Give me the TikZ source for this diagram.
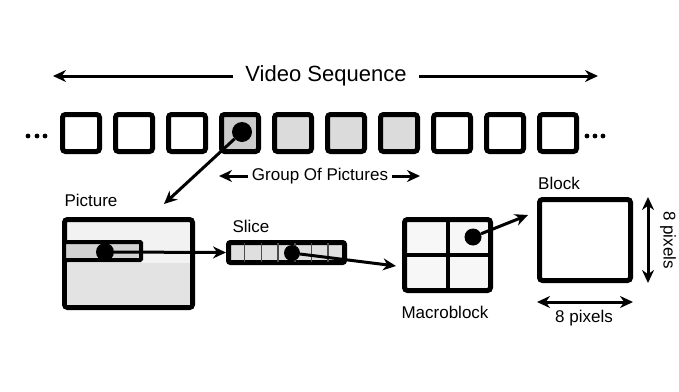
\documentclass[tikz,border=0pt]{standalone}
\usepackage{fontspec}
\setmainfont{Liberation Sans}
\usetikzlibrary{arrows.meta, positioning, calc}

\begin{document}
\begin{tikzpicture}[x=1pt, y=-1pt,
    frame/.style={rectangle, draw, line width=5pt, rounded corners=3pt, inner sep=0pt},
    dotmark/.style={circle, fill=black, inner sep=0pt, minimum size=18pt},
    lbl/.style={font=\fontsize{17}{20}\selectfont, inner sep=0pt},
    arrow/.style={line width=3pt, -{Stealth[length=13pt, width=12pt]}},
    darrow/.style={line width=3pt, {Stealth[length=13pt, width=12pt]}-{Stealth[length=13pt, width=12pt]}}]

\useasboundingbox (0,0) rectangle (679,391);

% Sequence of pictures along the top
\node (vs) [lbl, font=\fontsize{22}{26}\selectfont] at (326,76) {Video Sequence};
\coordinate (vsl) at (53,77);
\coordinate (vsr) at (598,77);
\draw [arrow] ([xshift=-12pt]vs.west) -- (vs.west -| vsl);
\draw [arrow] ([xshift=12pt]vs.east)  -- (vs.east -| vsr);

\foreach \i/\shade in {1/white,2/white,3/white,4/gray!40,5/gray!28,6/gray!28,7/gray!28,8/white,9/white,10/white}
    \node (f\i) [frame, fill=\shade, minimum size=37pt] at ({81+53*(\i-1)}, 133) {};

\foreach \x in {28,37,45}    \fill (\x,136) circle (2.4);
\foreach \x in {587,595,603} \fill (\x,136) circle (2.4);

\node (d4) [dotmark, minimum size=20pt] at ([xshift=2pt,yshift=1pt]f4.center) {};

% Group of pictures
\node (gop) [lbl] at (320,176) {Group Of Pictures};
\draw [arrow] ([xshift=-4pt]gop.west) -- (gop.west -| f4.west);
\draw [arrow] ([xshift=4pt]gop.east)  -- (gop.east -| f7.east);

% Picture
\node (pic) [frame, fill=gray!10, minimum width=128pt, minimum height=88pt] at (128.5,263.5) {};
\fill [gray!22] (67,263) rectangle (190,305);
\node (pstrip) [frame, line width=4pt, rounded corners=1pt, fill=gray!35,
                minimum width=77pt, minimum height=18pt] at (102.5,251) {};
\node (pdot) [dotmark] at (105,252) {};
\node (piclbl) [lbl] at (91,200) {Picture};
\coordinate (picin) at (164,204);
\draw [arrow] (d4) -- (picin);

% Slice
\node (slice) [frame, fill=gray!25, rounded corners=2pt, minimum width=116pt, minimum height=20pt] at (286.5,252.5) {};
\foreach \k in {1,...,6}
    \draw [line width=1.5pt, gray!60!black] ({228+16.7*\k},243) -- ({228+16.7*\k},262);
\node (sdot) [dotmark, minimum size=16pt] at (292,253) {};
\node (slicelbl) [lbl] at (251,226) {Slice};
\draw [arrow] (pdot) -- (slice.west);

% Macroblock
\node (mb) [frame, line width=5pt, fill=gray!6, minimum width=86pt, minimum height=71pt] at (447.5,255) {};
\draw [line width=4pt] (mb.north) -- (mb.south);
\draw [line width=4pt] (mb.west) -- (mb.east);
\node (mdot) [dotmark, minimum size=17pt] at (473,237) {};
\node (mblbl) [lbl] at (445,312) {Macroblock};
\draw [arrow] (sdot) -- ([xshift=-6pt,yshift=-11pt]mb.west);

% Block
\node (blk) [frame, line width=5pt, minimum width=91pt, minimum height=81pt] at (585,240) {};
\node (blklbl) [lbl] at (559,183) {Block};
\draw [arrow] (mdot) -- ([xshift=-9pt,yshift=25pt]blk.west);

\draw [darrow] ([xshift=15pt]blk.north east) -- ([xshift=15pt]blk.south east);
\node (hpix) [lbl, rotate=-90] at (668,240) {8 pixels};
\draw [darrow] ([yshift=-19pt]blk.south west) -- ([yshift=-19pt]blk.south east);
\node (wpix) [lbl] at (584,318) {8 pixels};

\end{tikzpicture}
\end{document}
